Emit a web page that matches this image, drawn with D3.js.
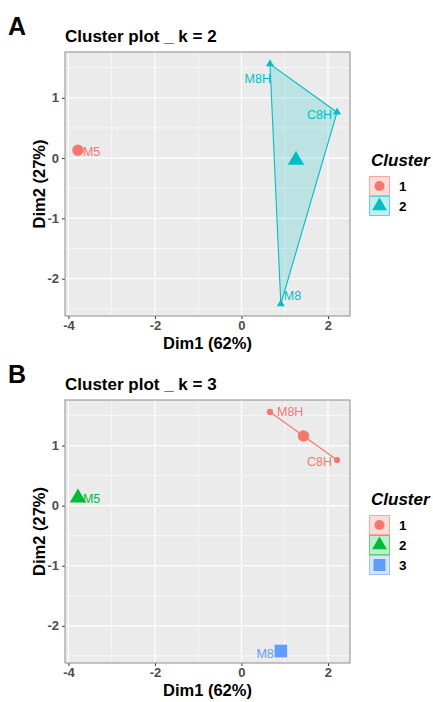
<!DOCTYPE html>
<html>
<head>
<meta charset="utf-8">
<script src="https://cdn.jsdelivr.net/npm/d3@7"></script>
<style>
  body { margin: 0; background: #fff; }
  svg { font-family: "Liberation Sans", Arial, sans-serif; }
</style>
</head>
<body>
<div id="chart"></div>
<script>
// PCA coordinates of the four samples
const samples = ["M5", "M8H", "C8H", "M8"];
const dim1 = [-3.78, 0.66, 2.21, 0.91];
const dim2 = [0.13, 1.56, 0.76, -2.42];

// cluster membership for k = 2 and k = 3
const clusterK2 = [1, 2, 2, 2];
const clusterK3 = [2, 1, 1, 3];

const paletteK2 = ["#F8766D", "#00BFC4"];
const paletteK3 = ["#F8766D", "#00BA38", "#619CFF"];

const xTicks = [-4, -2, 0, 2];
const yTicks = [-2, -1, 0, 1];
const xMinor = [-3, -1, 1];
const yMinor = [-2.5, -1.5, -0.5, 0.5, 1.5];

const shapes = [d3.symbolCircle, d3.symbolTriangle, d3.symbolSquare];
const smallSize = [30, 28, 30];
const bigSize = [102, 115, 160];
const keySize = [80, 95, 144];

// label nudges in px (dx, dy of baseline, anchor), per panel
const labelNudgeA = {
  M5: [5, 6, "start"], M8H: [1, 19, "end"], C8H: [-5, 7, "end"], M8: [3, -4, "start"]
};
const labelNudgeB = {
  M5: [5, 5, "start"], M8H: [7, 4.5, "start"], C8H: [-5, 5.5, "end"], M8: [-7, 7, "end"]
};

const W = 433, H = 702;
const svg = d3.select("#chart").append("svg")
  .attr("width", W).attr("height", H);
svg.append("rect").attr("width", W).attr("height", H).attr("fill", "#fff");

// x scale shared by both panels, 5% expansion like ggplot
const xExt = d3.extent(dim1), yExt = d3.extent(dim2);
const xPad = (xExt[1] - xExt[0]) * 0.05, yPad = (yExt[1] - yExt[0]) * 0.05;
const x = d3.scaleLinear().domain([xExt[0] - xPad, xExt[1] + xPad]).range([65, 350]);

function drawPanel(cfg) {
  const g = svg.append("g");
  const y = d3.scaleLinear().domain([yExt[0] - yPad, yExt[1] + yPad]).range([cfg.bottom, cfg.top]);
  const [x0, x1] = x.range();

  // panel letter and title
  g.append("text").attr("x", 8).attr("y", cfg.top - 17)
    .style("font-size", "25px").style("font-weight", "bold").text(cfg.letter);
  g.append("text").attr("x", 65).attr("y", cfg.top - 10)
    .style("font-size", "17px").style("font-weight", "bold").text(cfg.title);

  // background + grid
  g.append("rect").attr("x", x0).attr("y", cfg.top)
    .attr("width", x1 - x0).attr("height", cfg.bottom - cfg.top).attr("fill", "#EBEBEB");
  g.selectAll(".xminor").data(xMinor).enter().append("line")
    .attr("x1", d => x(d)).attr("x2", d => x(d)).attr("y1", cfg.top).attr("y2", cfg.bottom)
    .attr("stroke", "#fff").attr("stroke-width", 0.6);
  g.selectAll(".yminor").data(yMinor).enter().append("line")
    .attr("y1", d => y(d)).attr("y2", d => y(d)).attr("x1", x0).attr("x2", x1)
    .attr("stroke", "#fff").attr("stroke-width", 0.6);
  g.selectAll(".xmajor").data(xTicks).enter().append("line")
    .attr("x1", d => x(d)).attr("x2", d => x(d)).attr("y1", cfg.top).attr("y2", cfg.bottom)
    .attr("stroke", "#fff").attr("stroke-width", 1.2);
  g.selectAll(".ymajor").data(yTicks).enter().append("line")
    .attr("y1", d => y(d)).attr("y2", d => y(d)).attr("x1", x0).attr("x2", x1)
    .attr("stroke", "#fff").attr("stroke-width", 1.2);

  // axes (plain hyphen minus like the R output)
  const fmt = d => String(d);
  const xAxis = g.append("g").attr("transform", `translate(0,${cfg.bottom})`)
    .call(d3.axisBottom(x).tickValues(xTicks).tickSize(3).tickPadding(2).tickFormat(fmt));
  const yAxis = g.append("g").attr("transform", `translate(${x0},0)`)
    .call(d3.axisLeft(y).tickValues(yTicks).tickSize(3).tickPadding(3).tickFormat(fmt));
  [xAxis, yAxis].forEach(a => {
    a.select(".domain").remove();
    a.selectAll(".tick line").attr("stroke", "#333");
    a.selectAll(".tick text").attr("fill", "#4D4D4D")
      .style("font-size", "13px").style("font-weight", "bold")
      .style("font-family", "'Liberation Sans', Arial, sans-serif");
  });

  g.append("text").attr("x", (x0 + x1) / 2).attr("y", cfg.bottom + 32.5)
    .attr("text-anchor", "middle").style("font-size", "16.5px").style("font-weight", "bold")
    .text("Dim1 (62%)");
  g.append("text")
    .attr("transform", `translate(45,${(cfg.top + cfg.bottom) / 2}) rotate(-90)`)
    .attr("text-anchor", "middle").style("font-size", "16.5px").style("font-weight", "bold")
    .text("Dim2 (27%)");

  const pts = samples.map((s, i) => ({
    name: s, dx: dim1[i], dy: dim2[i], c: cfg.clusters[i]
  }));
  const groups = d3.groups(pts, d => d.c).sort((a, b) => a[0] - b[0]);

  const plot = g.append("g");
  // hulls
  groups.forEach(([c, members]) => {
    const col = cfg.palette[c - 1];
    const coords = members.map(d => [x(d.dx), y(d.dy)]);
    if (coords.length >= 3) {
      plot.append("path").attr("d", "M" + d3.polygonHull(coords).join("L") + "Z")
        .attr("fill", col).attr("fill-opacity", 0.2).attr("stroke", col).attr("stroke-width", 1.1);
    } else if (coords.length === 2) {
      plot.append("path").attr("d", "M" + coords.join("L"))
        .attr("fill", "none").attr("stroke", col).attr("stroke-width", 1.1);
    }
  });

  // sample points
  plot.selectAll(".pt").data(pts).enter().append("path")
    .attr("transform", d => `translate(${x(d.dx)},${y(d.dy)})`)
    .attr("d", d => d3.symbol().type(shapes[d.c - 1]).size(smallSize[d.c - 1])())
    .attr("fill", d => cfg.palette[d.c - 1]);

  // cluster centres
  groups.forEach(([c, members]) => {
    plot.append("path")
      .attr("transform", `translate(${x(d3.mean(members, d => d.dx))},${y(d3.mean(members, d => d.dy))})`)
      .attr("d", d3.symbol().type(shapes[c - 1]).size(bigSize[c - 1])())
      .attr("fill", cfg.palette[c - 1]);
  });

  // labels
  plot.selectAll(".lbl").data(pts).enter().append("text")
    .attr("x", d => x(d.dx) + cfg.nudge[d.name][0])
    .attr("y", d => y(d.dy) + cfg.nudge[d.name][1])
    .attr("text-anchor", d => cfg.nudge[d.name][2])
    .attr("fill", d => cfg.palette[d.c - 1])
    .style("font-size", "12.5px")
    .text(d => d.name);

  // panel border
  g.append("rect").attr("x", x0).attr("y", cfg.top)
    .attr("width", x1 - x0).attr("height", cfg.bottom - cfg.top)
    .attr("fill", "none").attr("stroke", "#8C8C8C").attr("stroke-width", 1);

  // legend
  const leg = g.append("g").attr("transform", `translate(369,${cfg.legendY})`);
  leg.append("text").attr("x", 2).attr("y", 0)
    .style("font-size", "17px").style("font-weight", "bold").style("font-style", "italic")
    .text("Cluster");
  cfg.palette.forEach((col, i) => {
    const ky = 10 + i * 20;
    leg.append("rect").attr("x", 0.5).attr("y", ky + 0.5).attr("width", 20).attr("height", 19)
      .attr("fill", col).attr("fill-opacity", 0.25).attr("stroke", col).attr("stroke-opacity", 0.6)
      .attr("stroke-width", 1);
    leg.append("path").attr("transform", `translate(10.5,${ky + 10})`)
      .attr("d", d3.symbol().type(shapes[i]).size(keySize[i])())
      .attr("fill", col);
    leg.append("text").attr("x", 30).attr("y", ky + 15)
      .style("font-size", "13.5px").style("font-weight", "bold").text(i + 1);
  });
}

drawPanel({
  letter: "A", title: "Cluster plot _ k = 2", top: 52, bottom: 316,
  clusters: clusterK2, palette: paletteK2, nudge: labelNudgeA, legendY: 166
});
drawPanel({
  letter: "B", title: "Cluster plot _ k = 3", top: 400, bottom: 663,
  clusters: clusterK3, palette: paletteK3, nudge: labelNudgeB, legendY: 505
});
</script>
</body>
</html>
